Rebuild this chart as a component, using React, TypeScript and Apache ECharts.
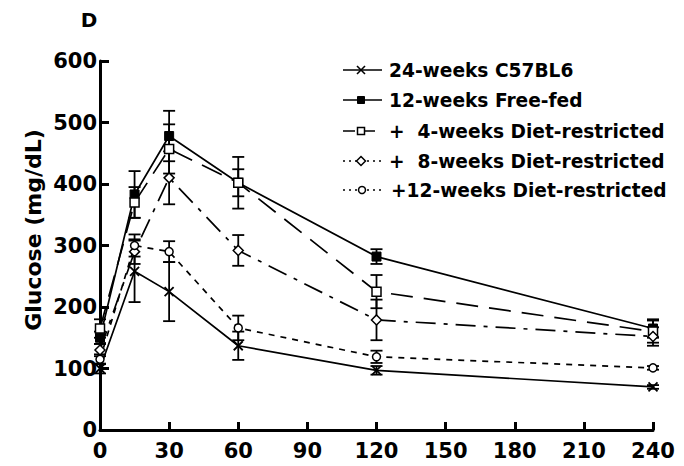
import React, { useEffect, useRef } from "react";
import * as echarts from "echarts";

const TIMES = [0, 15, 30, 60, 120, 240];
const X_TICKS = [0, 30, 60, 90, 120, 150, 180, 210, 240];

const C57 = [100, 258, 225, 137, 97, 70];
const C57_ERR = [8, 50, 48, 23, 7, 3];
const FREE = [150, 383, 478, 402, 282, 165];
const FREE_ERR = [10, 38, 41, 42, 12, 15];
const DR4 = [165, 370, 457, 402, 225, 160];
const DR4_ERR = [15, 25, 40, 22, 27, 18];
const DR8 = [130, 290, 410, 292, 179, 152];
const DR8_ERR = [10, 20, 43, 25, 33, 15];
const DR12 = [115, 300, 290, 166, 119, 101];
const DR12_ERR = [8, 18, 17, 20, 10, 3];

const LEGEND_NAMES = [
  "24-weeks C57BL6",
  "12-weeks Free-fed",
  "+  4-weeks Diet-restricted",
  "+  8-weeks Diet-restricted",
  "+12-weeks Diet-restricted",
];

const FONT = "DejaVu Sans";
const CROSS = "path://M0,0L10,10M10,0L0,10";

function errSeries(vals: number[], errs: number[]) {
  return {
    type: "custom",
    silent: true,
    z: 1,
    encode: { x: 0, y: 1 },
    data: TIMES.map((t, i) => [t, vals[i], errs[i]]),
    renderItem: (params: any, api: any) => {
      const x = api.value(0);
      const y = api.value(1);
      const e = api.value(2);
      const p1 = api.coord([x, y + e]);
      const p2 = api.coord([x, y - e]);
      const w = 6;
      const st = { stroke: "#000", lineWidth: 1.8 };
      return {
        type: "group",
        children: [
          { type: "line", shape: { x1: p1[0], y1: p1[1], x2: p2[0], y2: p2[1] }, style: st },
          { type: "line", shape: { x1: p1[0] - w, y1: p1[1], x2: p1[0] + w, y2: p1[1] }, style: st },
          { type: "line", shape: { x1: p2[0] - w, y1: p2[1], x2: p2[0] + w, y2: p2[1] }, style: st },
        ],
      };
    },
  };
}

function lineSeries(name: string, vals: number[], symbol: string, size: number, dash: any, fill: string, bw: number) {
  return {
    type: "line",
    name,
    z: 3,
    data: TIMES.map((t, i) => [t, vals[i]]),
    symbol,
    symbolSize: size,
    showAllSymbol: true,
    lineStyle: { color: "#000", width: 1.7, type: dash },
    itemStyle: { color: fill, borderColor: "#000", borderWidth: bw },
  };
}

export default function App() {
  const ref = useRef<HTMLDivElement>(null);
  useEffect(() => {
    const chart = echarts.init(ref.current!, null, { renderer: "svg" });
    const legendRows = [70, 100, 131, 161, 190];
    const lx1 = 343;
    const lx2 = 382;
    const mx = 361;
    const blk = { stroke: "#000", lineWidth: 1.6 };
    const legendGraphics: any[] = [];
    const dashes: any[] = ["solid", "solid", [12, 8], [2, 4], [2, 4]];
    legendRows.forEach((y, i) => {
      legendGraphics.push({
        type: "line",
        shape: { x1: lx1, y1: y, x2: lx2, y2: y },
        style: { ...blk, lineDash: dashes[i] === "solid" ? null : dashes[i] },
      });
      legendGraphics.push({
        type: "text",
        x: i === 4 ? 391 : 389,
        y,
        style: {
          text: LEGEND_NAMES[i],
          font: `bold 18.6px "${FONT}"`,
          fill: "#000",
          verticalAlign: "middle",
          align: "left",
        },
      });
    });
    legendGraphics.push(
      { type: "line", shape: { x1: mx - 4, y1: legendRows[0] - 4, x2: mx + 4, y2: legendRows[0] + 4 }, style: blk },
      { type: "line", shape: { x1: mx - 4, y1: legendRows[0] + 4, x2: mx + 4, y2: legendRows[0] - 4 }, style: blk },
      { type: "rect", shape: { x: mx - 3.5, y: legendRows[1] - 3.5, width: 7, height: 7 }, style: { fill: "#000", stroke: "#000", lineWidth: 1 } },
      { type: "rect", shape: { x: mx - 3.5, y: legendRows[2] - 3.5, width: 7, height: 7 }, style: { fill: "#fff", stroke: "#000", lineWidth: 1.5 } },
      { type: "polygon", shape: { points: [[mx, legendRows[3] - 4.5], [mx + 4.5, legendRows[3]], [mx, legendRows[3] + 4.5], [mx - 4.5, legendRows[3]]] }, style: { fill: "#fff", stroke: "#000", lineWidth: 1.5 } },
      { type: "circle", shape: { cx: mx + 1, cy: legendRows[4], r: 3.5 }, style: { fill: "#fff", stroke: "#000", lineWidth: 1.5 } }
    );

    chart.setOption({
      animation: false,
      backgroundColor: "#fff",
      grid: { left: 100, right: 31, top: 61, bottom: 36, containLabel: false },
      xAxis: {
        type: "value",
        min: 0,
        max: 240,
        interval: 30,
        axisLine: { show: true, lineStyle: { color: "#000", width: 3 } },
        axisTick: { show: true, inside: true, length: 8, lineStyle: { color: "#000", width: 3 } },
        axisLabel: {
          color: "#000",
          fontFamily: FONT,
          fontWeight: "bold",
          fontSize: 21,
          margin: 10,
          formatter: (v: number) => (X_TICKS.indexOf(v) >= 0 ? String(v) : ""),
        },
        splitLine: { show: false },
      },
      yAxis: {
        type: "value",
        min: 0,
        max: 600,
        interval: 100,
        axisLine: { show: true, lineStyle: { color: "#000", width: 3 } },
        axisTick: { show: true, inside: true, length: 9, lineStyle: { color: "#000", width: 3 } },
        axisLabel: { color: "#000", fontFamily: FONT, fontWeight: "bold", fontSize: 21, margin: 3 },
        splitLine: { show: false },
      },
      graphic: [
        {
          type: "text",
          x: 33,
          y: 230,
          rotation: Math.PI / 2,
          style: {
            text: "Glucose (mg/dL)",
            font: `bold 22px "${FONT}"`,
            fill: "#000",
            align: "center",
            verticalAlign: "middle",
          },
        },
        {
          type: "text",
          x: 89,
          y: 20,
          style: { text: "D", font: `bold 20px "${FONT}"`, fill: "#000", align: "center", verticalAlign: "middle" },
        },
        ...legendGraphics,
      ],
      series: [
        errSeries(C57, C57_ERR),
        errSeries(FREE, FREE_ERR),
        errSeries(DR4, DR4_ERR),
        errSeries(DR8, DR8_ERR),
        errSeries(DR12, DR12_ERR),
        lineSeries(LEGEND_NAMES[0], C57, CROSS, 9, "solid", "#000", 1.8),
        lineSeries(LEGEND_NAMES[1], FREE, "rect", 9, "solid", "#000", 1),
        lineSeries(LEGEND_NAMES[2], DR4, "rect", 9, [22, 11], "#fff", 1.5),
        lineSeries(LEGEND_NAMES[3], DR8, "diamond", 10, [20, 8, 4, 8], "#fff", 1.5),
        lineSeries(LEGEND_NAMES[4], DR12, "circle", 8, [6, 6], "#fff", 1.5),
      ],
    });
    return () => chart.dispose();
  }, []);
  return <div ref={ref} style={{ position: "fixed", left: 0, top: 0, width: 684, height: 466 }} />;
}
